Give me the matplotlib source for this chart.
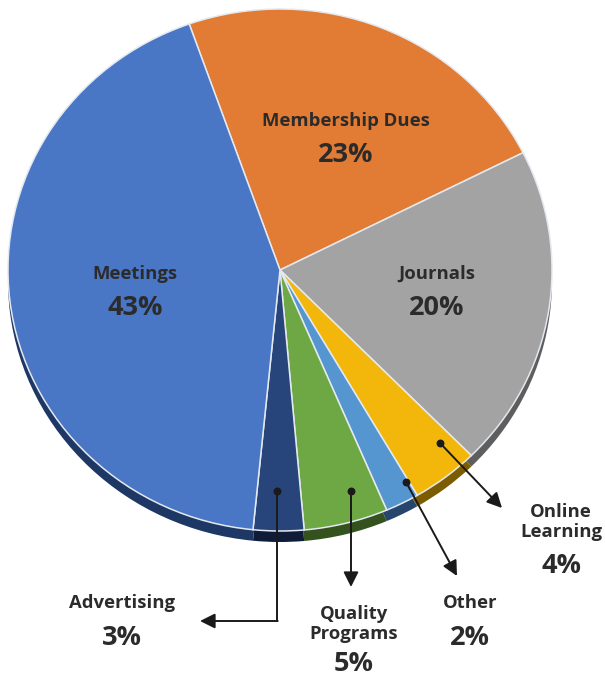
import matplotlib
matplotlib.use('Agg')
import matplotlib.pyplot as plt
from matplotlib.transforms import Affine2D

# slice data, clockwise from the top
labels = ['Membership Dues', 'Journals', 'Online\nLearning', 'Other',
          'Quality\nPrograms', 'Advertising', 'Meetings']
values = [23, 20, 4, 2, 5, 3, 43]

top_colors = ['#E27B33', '#A3A3A3', '#F3B70C', '#5596D0', '#6EA845', '#27457A', '#4976C5']
side_colors = ['#8A4516', '#5E5E5E', '#7C5C00', '#26466E', '#33521E', '#0E1C38', '#1E3866']

plt.rcParams['font.family'] = ['Open Sans', 'DejaVu Sans']
txt = '#2b2b2b'

fig = plt.figure(figsize=(6.05, 6.79), dpi=100)
ax = fig.add_axes([0, 0, 1, 1])

cx, cy, rx, ry, depth = 280, 270, 272, 261, 11
start = 109.5

# side of the pie (drawn a little lower, behind the top face)
side, _ = ax.pie(values, colors=side_colors, startangle=start, counterclock=False,
                 wedgeprops=dict(linewidth=0))
for w in side:
    w.set_transform(Affine2D().scale(rx, -ry).translate(cx, cy + depth) + ax.transData)
    w.set_zorder(1)

# top face
top, _ = ax.pie(values, colors=top_colors, startangle=start, counterclock=False,
                wedgeprops=dict(edgecolor='#e4e9f0', linewidth=1.1))
for w in top:
    w.set_transform(Affine2D().scale(rx, -ry).translate(cx, cy) + ax.transData)
    w.set_zorder(2)

ax.set_xlim(0, 605)
ax.set_ylim(679, 0)
ax.set_aspect('auto')
ax.axis('off')

name_fs, pct_fs = 13.3, 19.5

# labels inside the pie
inner = {0: (346, 121, 155), 1: (437, 274, 308), 6: (135, 274, 308)}
for i, (x, y1, y2) in inner.items():
    ax.text(x, y1, labels[i], ha='center', va='center', fontsize=name_fs, weight='bold', color=txt, zorder=5)
    ax.text(x, y2, f'{values[i]}%', ha='center', va='center', fontsize=pct_fs, weight='bold', color=txt, zorder=5)

# outside labels with leader arrows
outer = {2: (561, 522, 566), 3: (470, 603, 638), 4: (354, 624, 664), 5: (122, 603, 638)}
for i, (x, y1, y2) in outer.items():
    ax.text(x, y1, labels[i], ha='center', va='center', fontsize=name_fs, weight='bold',
            color=txt, linespacing=1.2, zorder=5)
    ax.text(x, y2, f'{values[i]}%', ha='center', va='center', fontsize=pct_fs, weight='bold', color=txt, zorder=5)

aprops = dict(arrowstyle='-|>,head_length=0.9,head_width=0.45', color='#1a1a1a', lw=1.4,
              shrinkA=0, shrinkB=0)
dots = [(440, 443), (406, 482), (351, 491), (277, 491)]
tips = [(502, 508), (457, 576), (351, 587), (200, 621)]
for (dx, dy), (tx, ty) in zip(dots[:3], tips[:3]):
    ax.annotate('', xy=(tx, ty), xytext=(dx, dy), arrowprops=aprops, zorder=6)
# advertising: elbow line
ax.plot([277, 277], [491, 621], color='#1a1a1a', lw=1.4, zorder=6)
ax.annotate('', xy=tips[3], xytext=(277.7, 621), arrowprops=aprops, zorder=6)
ax.scatter([d[0] for d in dots], [d[1] for d in dots], s=22, color='#1a1a1a', zorder=7)

fig.savefig('out.png', dpi=100)
